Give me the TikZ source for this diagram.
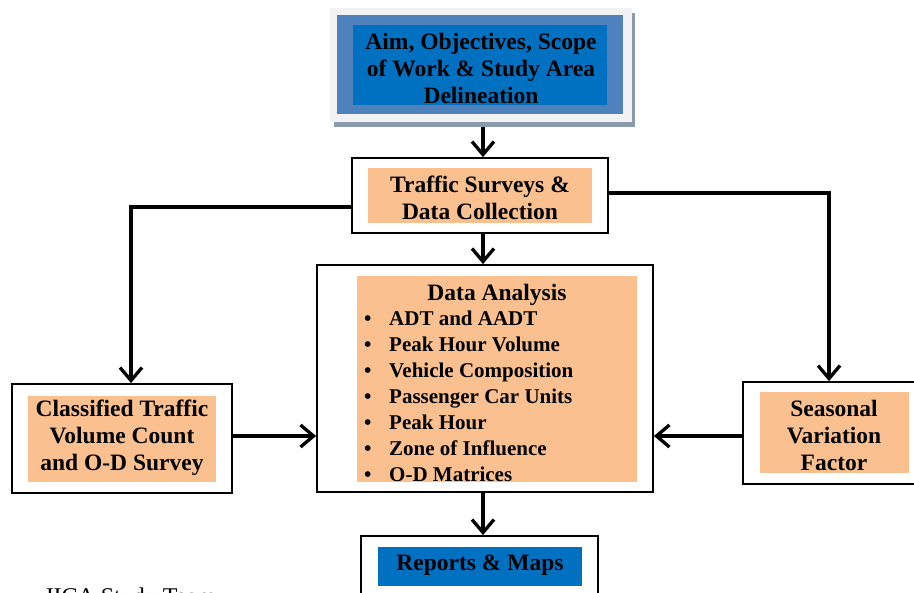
\documentclass[tikz,border=0pt]{standalone}
\usepackage{fontspec}
\setmainfont{Liberation Serif}
\usetikzlibrary{arrows.meta}

\definecolor{frameGray}{HTML}{F2F2F2}
\definecolor{shadowGray}{HTML}{8C9AAE}
\definecolor{midBlue}{HTML}{4F81BD}
\definecolor{deepBlue}{HTML}{0070C0}
\definecolor{peach}{HTML}{FAC090}

\begin{document}
\begin{tikzpicture}[x=1pt,y=-1pt,
  outerbox/.style={draw=black,line width=1.8pt,fill=white,inner sep=0pt},
  panel/.style={fill=peach,inner sep=0pt},
  fillbox/.style={inner sep=0pt},
  boxlabel/.style={font=\fontsize{23.5}{27}\selectfont\bfseries,align=center,inner sep=0pt},
  itemlabel/.style={font=\fontsize{21}{26}\selectfont\bfseries,inner sep=0pt,anchor=base west},
  flow/.style={line width=3.3pt,-{Straight Barb[length=13pt,width=22pt]}}
]
\useasboundingbox (0,0) rectangle (914,593);

% ---- Aim / objectives block (framed, with drop shadow) ----
\node[fillbox,fill=shadowGray,minimum width=301pt,minimum height=114pt] (aimshadow) at (484.5,70) {};
\node[fillbox,fill=frameGray,minimum width=302pt,minimum height=114pt] (aim) at (481,65) {};
\node[fillbox,fill=midBlue,minimum width=286pt,minimum height=99pt] (aimmid) at (480,64.5) {};
\node[fillbox,fill=deepBlue,minimum width=254pt,minimum height=80pt] (aimcore) at (480,65) {};
\node[boxlabel] (aimtext) at (481,68) {Aim, Objectives, Scope\\of Work \& Study Area\\Delineation};

% ---- Traffic surveys ----
\node[outerbox,minimum width=256pt,minimum height=75pt] (traffic) at (480,195.5) {};
\node[panel,minimum width=224pt,minimum height=55pt] (trafficpanel) at (480,195.5) {};
\node[boxlabel] (traffictext) at (480,198) {Traffic Surveys \&\\Data Collection};

% ---- Data analysis ----
\node[outerbox,minimum width=336pt,minimum height=227pt] (data) at (485,378.5) {};
\node[panel,minimum width=280pt,minimum height=206pt] (datapanel) at (497,379) {};
\node[boxlabel] (datatitle) at (497,294.5) {Data Analysis};
\foreach \txt [count=\i] in {ADT and AADT,Peak Hour Volume,Vehicle Composition,
    Passenger Car Units,Peak Hour,Zone of Influence,O-D Matrices}{
  \pgfmathsetmacro{\yb}{326+26*(\i-1)}
  \node[itemlabel] (bullet\i) at (364,\yb) {•};
  \node[itemlabel] (item\i) at (389,\yb) {\txt};
}

% ---- Classified traffic volume count ----
\node[outerbox,minimum width=220pt,minimum height=109pt] (classified) at (122,438.5) {};
\node[panel,minimum width=188pt,minimum height=86pt] (classpanel) at (122,439) {};
\node[boxlabel] (classtext) at (122,438) {Classified Traffic\\Volume Count\\and O-D Survey};

% ---- Seasonal variation factor ----
\node[outerbox,minimum width=177pt,minimum height=102pt] (seasonal) at (831.5,433) {};
\node[panel,minimum width=149pt,minimum height=81pt] (seasonpanel) at (834.5,432.5) {};
\node[boxlabel] (seasontext) at (834,435) {Seasonal\\Variation\\Factor};

% ---- Reports & maps ----
\node[outerbox,minimum width=237pt,minimum height=80pt] (reports) at (479.5,576) {};
\node[fillbox,fill=deepBlue,minimum width=204pt,minimum height=39pt] (reportscore) at (480,566.5) {};
\node[boxlabel] (reportstext) at (480,565) {Reports \& Maps};

% ---- Source line ----
\node[font=\fontsize{24}{28}\selectfont,anchor=base west,inner sep=0pt] (source) at (44,605) {JICA Study Team};

% ---- Connectors ----
\coordinate (spine) at (483,0);
\coordinate (lrail) at (131,207);
\coordinate (rrail) at (829,193);
\coordinate (midrow) at (0,436);

\draw[flow] (aimshadow.south -| spine) -- (traffic.north -| spine);
\draw[flow] (traffic.south -| spine) -- (data.north -| spine);
\draw[flow] (data.south -| spine) -- (reports.north -| spine);
\draw[flow] (lrail -| traffic.west) -- (lrail) -- (lrail |- classified.north);
\draw[flow] (rrail -| traffic.east) -- (rrail) -- (rrail |- seasonal.north);
\draw[flow] (classified.east |- midrow) -- (data.west |- midrow);
\draw[flow] (seasonal.west |- midrow) -- (data.east |- midrow);
\end{tikzpicture}
\end{document}
